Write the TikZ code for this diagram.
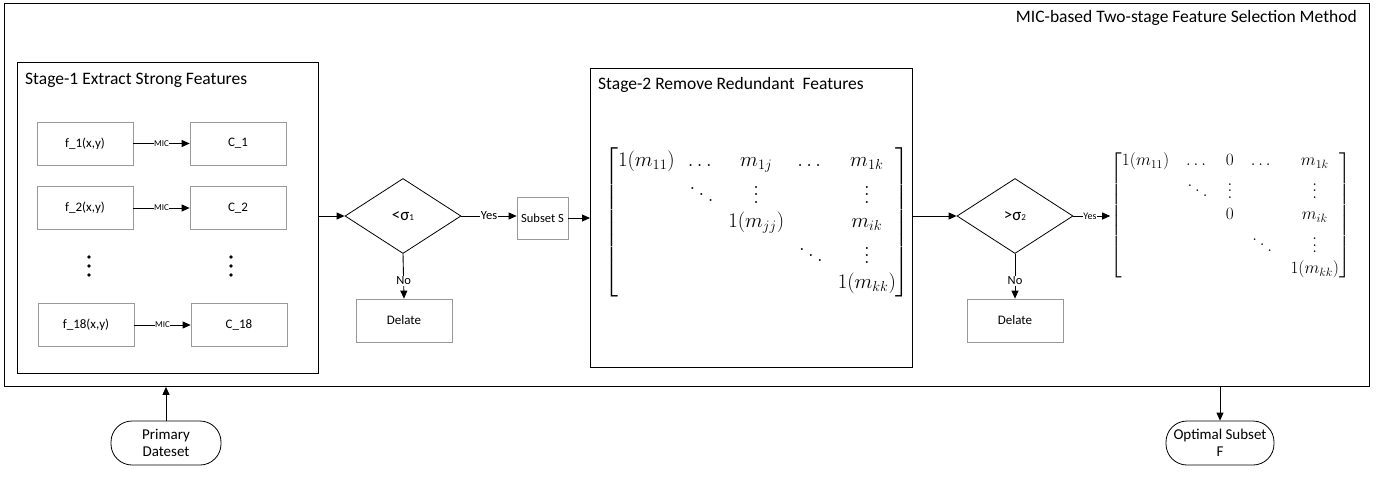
\documentclass[tikz,border=0pt]{standalone}
\usepackage{amsmath}
\usepackage{fontspec}
\setmainfont{Carlito}
\usetikzlibrary{positioning,shapes.geometric,arrows.meta}

\tikzset{
  bigbox/.style={draw, line width=0.9pt, inner sep=0pt, anchor=north west},
  smallbox/.style={draw=black!40, line width=0.7pt, minimum width=96pt, minimum height=43pt, inner sep=0pt, font=\fontsize{13}{15}\selectfont},
  decision/.style={diamond, draw, line width=0.8pt, minimum width=116pt, minimum height=75pt, inner sep=0pt, font=\fontsize{17}{19}\selectfont},
  terminal/.style={draw, line width=0.8pt, rounded corners=21pt, minimum width=110pt, minimum height=44pt, inner sep=1pt, align=center, font=\fontsize{15}{17}\selectfont},
  flow/.style={-{Triangle[length=8pt,width=7pt]}, line width=0.9pt},
  arrowtag/.style={fill=white, inner sep=1pt, font=\fontsize{12.5}{14}\selectfont},
  mictag/.style={fill=white, inner sep=0.5pt, font=\fontsize{9}{10}\selectfont},
  boxtitle/.style={anchor=west, inner sep=0pt, font=\fontsize{17.5}{20}\selectfont}
}
\newcommand{\lowidx}[1]{{\fontsize{9}{9}\selectfont #1}}
% dots that grow with the font size
\newcommand{\matvdots}{\vbox{\baselineskip=0.38em\lineskiplimit=0pt\kern0.55em\hbox{$.$}\hbox{$.$}\hbox{$.$}}}
\newcommand{\matddots}{\mathinner{\mkern1mu\raise0.7em\vbox{\kern0.7em\hbox{$.$}}\mkern3mu\raise0.4em\hbox{$.$}\mkern3mu\raise0.1em\hbox{$.$}\mkern1mu}}

\begin{document}
\begin{tikzpicture}[x=1pt, y=-1pt]
  \useasboundingbox (0,0) rectangle (1384,493);

  % outer frame
  \node[bigbox, minimum width=1365pt, minimum height=383pt] (method) at (4,3) {};
  \node[anchor=east, inner sep=0pt, font=\fontsize{17.5}{20}\selectfont] (methodtitle) at (1357,18) {MIC-based Two-stage Feature Selection Method};

  % stage 1
  \node[bigbox, minimum width=301pt, minimum height=311pt] (stage1) at (17,62) {};
  \node[boxtitle] (stage1title) at (25,80) {Stage-1 Extract Strong Features};
  \node[smallbox] (f1) at (85,143.5) {f\_1(x,y)};
  \node[smallbox] (c1) at (238,143.5) {C\_1};
  \node[smallbox] (f2) at (85,208) {f\_2(x,y)};
  \node[smallbox] (c2) at (238,208) {C\_2};
  \node[smallbox] (f18) at (86,325) {f\_18(x,y)};
  \node[smallbox] (c18) at (239,325) {C\_18};
  \foreach \dy in {-9,0,9} {
    \fill (89,266+\dy) circle (1.8pt);
    \fill (231,266+\dy) circle (1.8pt);
  }

  \draw[flow] (f1) -- node[mictag] {MIC} (c1);
  \draw[flow] (f2) -- node[mictag] {MIC} (c2);
  \draw[flow] (f18) -- node[mictag] {MIC} (c18);

  % first threshold
  \node[decision] (test1) at (403,216) {<σ\lowidx{1}};
  \node[smallbox, minimum width=51pt, minimum height=42pt, font=\fontsize{12.5}{14}\selectfont] (subset) at (542.5,218) {Subset S};
  \node[smallbox] (drop1) at (404,320.5) {Delate};

  \draw[flow] (stage1.east |- test1.west) -- (test1.west);
  \draw[flow] (test1.east) -- node[arrowtag] {Yes} (subset.west |- test1.east);
  \draw[flow] (test1.south) -- node[arrowtag, pos=0.6] {No} (drop1.north);

  % stage 2
  \node[bigbox, minimum width=322pt, minimum height=299pt] (stage2) at (590,68) {};
  \node[boxtitle] (stage2title) at (598,85) {Stage-2 Remove Redundant\ \ Features};
  \node[inner sep=0pt, font=\fontsize{19.5}{23}\selectfont] (mic1) at (757,222.5) {%
    \setlength{\arraycolsep}{6.6pt}\renewcommand{\arraystretch}{1.05}%
    $\begin{bmatrix}
      1(m_{11}) & \dots & m_{1j} & \dots & m_{1k}\\
       & \matddots & \matvdots & & \matvdots\\
       & & 1(m_{jj}) & & m_{ik}\\
       & & & \matddots & \matvdots\\
       & & & & 1(m_{kk})
    \end{bmatrix}$};

  \draw[flow] (subset.east) -- (stage2.west |- subset.east);

  % second threshold
  \node[decision] (test2) at (1015,216) {>σ\lowidx{2}};
  \node[smallbox] (drop2) at (1015,320.5) {Delate};
  \node[inner sep=0pt, font=\fontsize{18}{21}\selectfont] (mic2) at (1230.5,215.5) {%
    \setlength{\arraycolsep}{8.5pt}\renewcommand{\arraystretch}{1.0}%
    $\begin{bmatrix}
      1(m_{11}) & \dots & 0 & \dots & m_{1k}\\
       & \matddots & \matvdots & & \matvdots\\
       & & 0 & & m_{ik}\\
       & & & \matddots & \matvdots\\
       & & & & 1(m_{kk})
    \end{bmatrix}$};

  \draw[flow] (stage2.east |- test2.west) -- (test2.west);
  \draw[flow] (test2.east) -- node[arrowtag, pos=0.45, inner sep=0.5pt, font=\fontsize{10}{12}\selectfont] {Yes} (mic2.west |- test2.east);
  \draw[flow] (test2.south) -- node[arrowtag, pos=0.6] {No} (drop2.north);

  % input and output
  \node[terminal] (primary) at (166,443) {Primary\\Dateset};
  \node[terminal, minimum width=108pt] (optimal) at (1220,443) {Optimal Subset\\F};

  \draw[flow] (primary.north) -- (primary |- method.south);
  \draw[flow] (optimal |- method.south) -- (optimal.north);
\end{tikzpicture}
\end{document}
